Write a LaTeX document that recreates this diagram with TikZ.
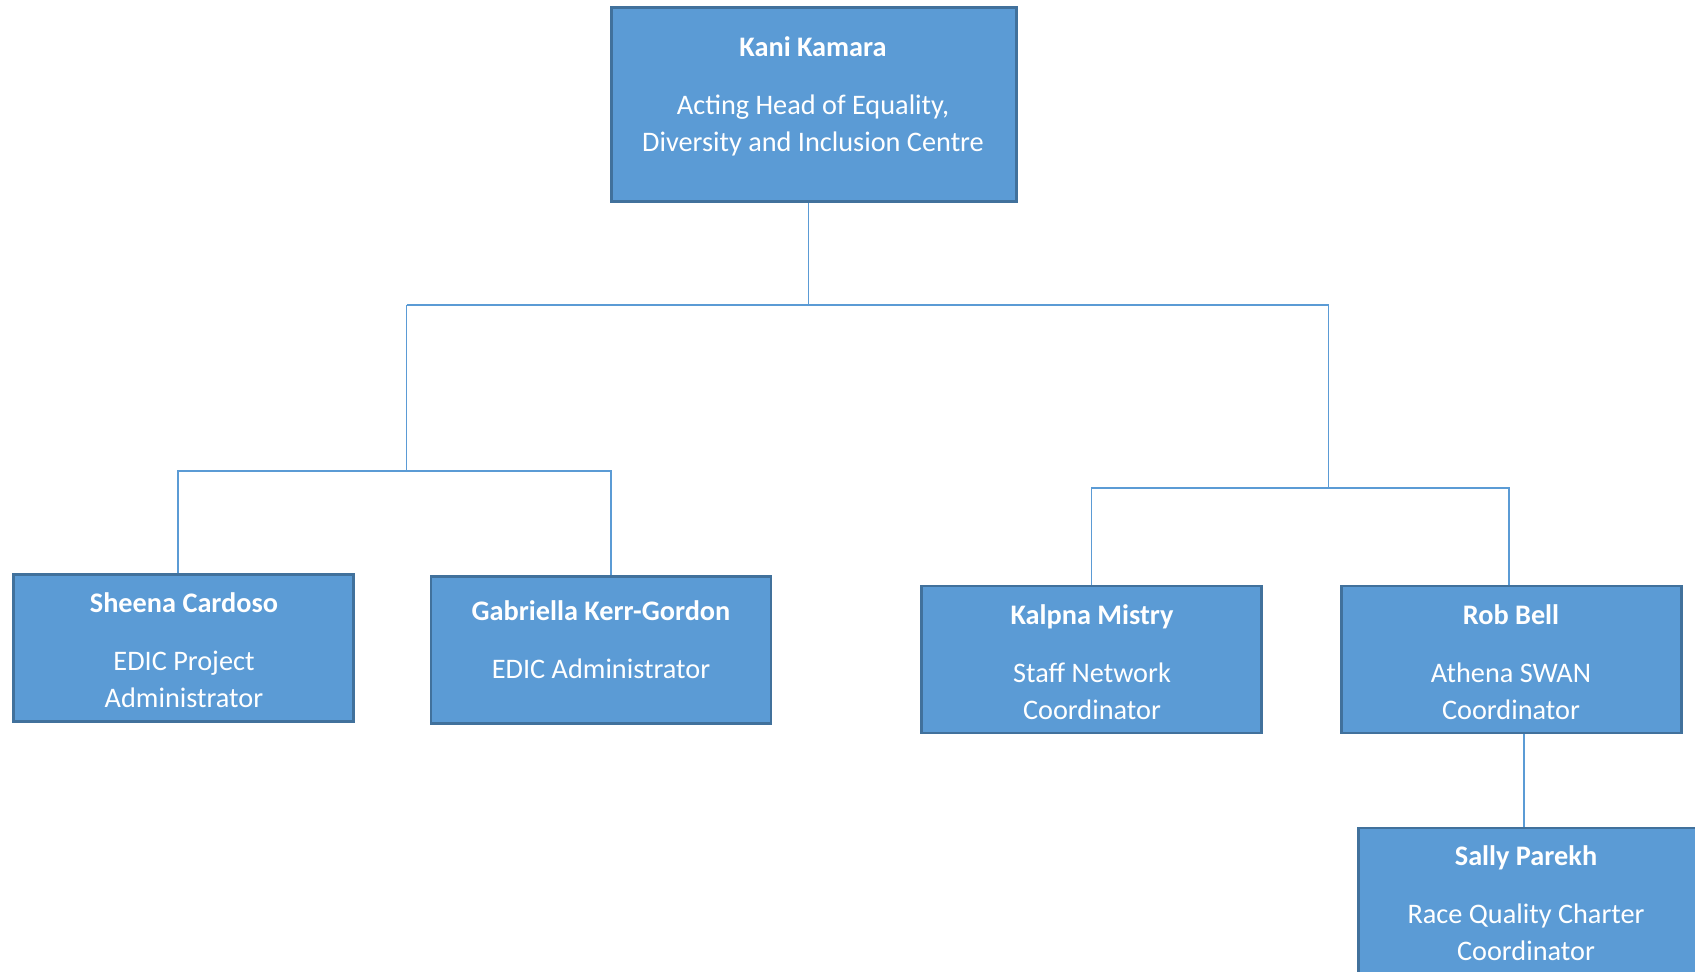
\documentclass[tikz,border=0pt]{standalone}
\usepackage{fontspec}
\setmainfont{Carlito}
\usepackage{tikz}
\usetikzlibrary{positioning}
\definecolor{postblue}{HTML}{5B9BD5}
\definecolor{postedge}{HTML}{41719C}
\tikzstyle{post} = [rectangle, 
minimum width=340pt, 
minimum height=147pt, 
draw=postedge, 
line width=2.5pt, 
fill=postblue]
\tikzstyle{posttext} = [text=white, 
align=center, 
inner sep=0pt, 
font=\fontsize{28.3}{37}\selectfont]
\tikzstyle{link} = [draw=postblue, line width=1.3pt]

\begin{document}
\begin{tikzpicture}[x=1pt, y=-1pt]
\useasboundingbox (0,0) rectangle (1695,972);

\node (kani) [post, minimum width=405pt, minimum height=194pt] at (814,104.5) {};
\node (kanitext) [posttext] at (813,96.5) {\textbf{Kani Kamara}\\[21pt] Acting Head of Equality,\\ Diversity and Inclusion Centre};

\node (sheena) [post] at (183.5,648) {};
\node (sheenatext) [posttext] at (184,650.5) {\textbf{Sheena Cardoso}\\[21pt] EDIC Project\\ Administrator};

\node (gabriella) [post] at (601,650) {};
\node (gabrielatext) [posttext] at (601,640) {\textbf{Gabriella Kerr-Gordon}\\[21pt] EDIC Administrator};

\node (kalpna) [post] at (1091.5,659.5) {};
\node (kalpnatext) [posttext] at (1092,662) {\textbf{Kalpna Mistry}\\[21pt] Staff Network\\ Coordinator};

\node (rob) [post] at (1511.5,659.5) {};
\node (robtext) [posttext] at (1511,662) {\textbf{Rob Bell}\\[21pt] Athena SWAN\\ Coordinator};

\node (sally) [post] at (1528.5,901.5) {};
\node (sallytext) [posttext] at (1526,903) {\textbf{Sally Parekh}\\[21pt] Race Quality Charter\\ Coordinator};

\coordinate (hub) at (808.5,305);
\coordinate (hubleft) at (406.5,305);
\coordinate (hubright) at (1328.5,305);
\coordinate (splitleft) at (406.5,471);
\coordinate (splitright) at (1328.5,488);

\draw [link] ([xshift=-5.5pt]kani.south) -- (hub);
\draw [link] (hubleft) -- (hubright);
\draw [link] (hubleft) -- (splitleft);
\draw [link] (hubright) -- (splitright);
\draw [link] ([xshift=-5.5pt]sheena.north) |- (splitleft) -| ([xshift=10pt]gabriella.north);
\draw [link] (kalpna.north) |- (splitright) -| ([xshift=-2.5pt]rob.north);
\draw [link] ([xshift=12.5pt]rob.south) -- ([xshift=-4.5pt]sally.north);
\end{tikzpicture}
\end{document}
